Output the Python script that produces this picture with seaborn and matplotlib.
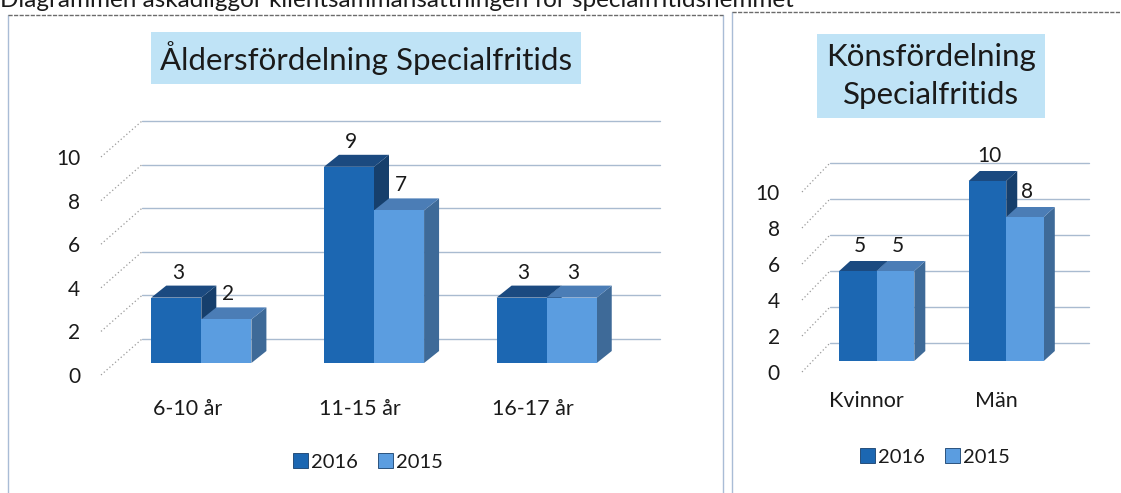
import numpy as np
import pandas as pd
import matplotlib
matplotlib.use("Agg")
import matplotlib.pyplot as plt
import seaborn as sns
from matplotlib.patches import Polygon, Rectangle
from matplotlib.lines import Line2D
from matplotlib.transforms import ScaledTranslation, IdentityTransform

# ---------------- data ----------------
age_groups = ["6-10 år", "11-15 år", "16-17 år"]
age_2016 = [3, 9, 3]
age_2015 = [2, 7, 3]
genders = ["Kvinnor", "Män"]
gender_2016 = [5, 10]
gender_2015 = [5, 8]
years = ["2016", "2015"]
yticks = [0, 2, 4, 6, 8, 10]
heading = "Diagrammen åskådliggör klientsammansättningen för specialfritidshemmet"
title_age = "Åldersfördelning Specialfritids"
title_gender = "Könsfördelning\nSpecialfritids"

# ---------------- style ----------------
DPI = 100
W, H = 1121, 493
FONT = "Lato"

sns.set_theme(style="white")
plt.rcParams["font.family"] = [FONT, "DejaVu Sans"]
plt.rcParams["text.color"] = "#1a1a1a"

palette = {"2016": "#1c67b2", "2015": "#5b9de0"}
top_col = {"2016": "#1b4a80", "2015": "#4b7db6"}
side_col = {"2016": "#163f6c", "2015": "#3e6a98"}
grid_col = "#a9bbd0"
diag_col = "#9a9a9a"

fig = plt.figure(figsize=(W / DPI, H / DPI), dpi=DPI)
fig.patch.set_facecolor("white")


def axes_px(l, r, b0, t10):
    return fig.add_axes([l / W, (H - b0) / H, (r - l) / W, (b0 - t10) / H])


def draw_chart(ax, cats, v16, v15, front, depth, back, ypad, xpad, fs, xfs):
    df = pd.DataFrame({
        "cat": cats * 2,
        "year": [years[0]] * len(cats) + [years[1]] * len(cats),
        "value": v16 + v15,
    })
    sns.barplot(data=df, x="cat", y="value", hue="year", hue_order=years,
                palette=palette, width=0.58, gap=0, saturation=1,
                legend=False, ax=ax, linewidth=0, edgecolor="none")
    ax.set_xlim(-0.5, len(cats) - 0.5)
    ax.set_ylim(0, 10)
    ax.set_yticks(yticks)
    ax.set_xlabel("")
    ax.set_ylabel("")
    for s in ax.spines.values():
        s.set_visible(False)
    ax.set_facecolor("none")
    ax.tick_params(axis="y", length=0, pad=ypad, labelsize=fs, labelcolor="#1a1a1a")
    ax.tick_params(axis="x", length=0, pad=xpad, labelsize=xfs, labelcolor="#1a1a1a")

    def disp(x, y, off=(0, 0)):
        p = ax.transData.transform((x, y))
        return np.array([p[0] + off[0], p[1] + off[1]])

    x0l, x1l = ax.get_xlim()
    # back wall gridlines + floor diagonals
    for t in yticks:
        a = disp(x0l, t, back)
        b = disp(x1l, t, back)
        ax.add_line(Line2D([a[0], b[0]], [a[1], b[1]], transform=IdentityTransform(),
                           color=grid_col, lw=1.0, zorder=0.5, clip_on=False))
        c = disp(x0l, t)
        ax.add_line(Line2D([c[0], a[0]], [c[1], a[1]], transform=IdentityTransform(),
                           color=diag_col, lw=0.9, ls=(0, (1, 2)), zorder=0.5, clip_on=False))

    # 3-D bars
    bars = []
    for yi, cont in enumerate(ax.containers):
        for p in cont:
            bars.append((p.get_x(), years[yi], p))
    bars.sort(key=lambda b: b[0])
    shift = ScaledTranslation(front[0] / DPI, front[1] / DPI, fig.dpi_scale_trans)
    d = np.array(depth)
    for k, (_, yr, p) in enumerate(bars):
        x0, w, h = p.get_x(), p.get_width(), p.get_height()
        z = 2 + 0.1 * k
        fl, fr = disp(x0, 0, front), disp(x0 + w, 0, front)
        tl, tr = disp(x0, h, front), disp(x0 + w, h, front)
        ax.add_patch(Polygon([fr, tr, tr + d, fr + d], closed=True, fc=side_col[yr], ec="none",
                             transform=IdentityTransform(), zorder=z, clip_on=False))
        ax.add_patch(Polygon([tl, tr, tr + d, tl + d], closed=True, fc=top_col[yr], ec="none",
                             transform=IdentityTransform(), zorder=z + 0.01, clip_on=False))
        p.set_transform(ax.transData + shift)
        p.set_zorder(z + 0.02)
        p.set_clip_on(False)
        ax.annotate(f"{h:g}", xy=(x0 + w / 2, h),
                    xytext=((front[0] + 2) * 72 / DPI, (front[1] + 25) * 72 / DPI),
                    textcoords="offset points", ha="center", va="center",
                    fontsize=fs, color="#1a1a1a", zorder=10, annotation_clip=False)


# ---------------- left chart ----------------
axL = axes_px(101, 619, 375, 157)
draw_chart(axL, age_groups, age_2016, age_2015,
           front=(14, 12), depth=(15, 12), back=(41, 36), ypad=15, xpad=17, fs=15, xfs=15.5)

# ---------------- right chart ----------------
axR = axes_px(802, 1061, 372, 192)
draw_chart(axR, genders, gender_2016, gender_2015,
           front=(10, 11), depth=(11, 10), back=(28, 29), ypad=16, xpad=14, fs=15, xfs=15.5)

# ---------------- titles ----------------
fig.text(366 / W, (H - 58) / H, title_age, ha="center", va="center", fontsize=22.5,
         color="#1a1a1a",
         bbox=dict(boxstyle="square,pad=0.3", fc="#bfe3f6", ec="none"))
fig.text(931 / W, (H - 76) / H, title_gender, ha="center", va="center", fontsize=22.5,
         color="#1a1a1a", linespacing=1.4,
         bbox=dict(boxstyle="square,pad=0.3", fc="#bfe3f6", ec="none"))

# cut-off heading at the very top (as in the scanned page)
fig.text(0.0, (H - 7) / H, heading, ha="left", va="baseline", fontsize=17.5, color="#1a1a1a")

# ---------------- legends ----------------
handles = [Rectangle((0, 0), 1, 1, fc=palette[y], ec="#163f6c", lw=0.6) for y in years]
for cx, cy in [(368, 462), (935, 457)]:
    fig.legend(handles, years, loc="center", bbox_to_anchor=(cx / W, (H - cy) / H),
               ncol=2, frameon=False, handlelength=0.75, handleheight=0.75,
               handletextpad=0.15, columnspacing=1.0, fontsize=14.5, borderaxespad=0)

# ---------------- panel frames ----------------
frame_v = "#a9bcd6"
frame_h = "#6b6b6b"
for xs, ys, col, ls in [
    ([8, 8], [15, H], frame_v, "-"),
    ([723, 723], [15, H], frame_v, "-"),
    ([8, 723], [15, 15], frame_h, (0, (3, 1))),
    ([732, 732], [12, H], frame_v, "-"),
    ([732, W], [12, 12], frame_h, (0, (3, 1))),
]:
    fig.add_artist(Line2D([x / W for x in xs], [(H - y) / H for y in ys],
                          transform=fig.transFigure, color=col, lw=1.0, ls=ls))

fig.savefig("out.png", dpi=DPI, facecolor="white")
